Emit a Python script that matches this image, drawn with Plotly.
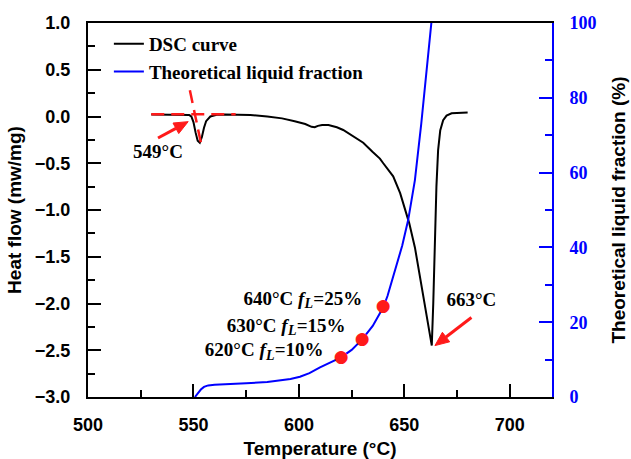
import math
import plotly.graph_objects as go

# DSC curve (Temperature °C, heat flow mW/mg)
dsc_temp = [530, 540, 546, 548, 549, 550, 551, 552, 553, 554, 555, 556, 558, 561, 565, 570,
            577, 585, 592, 598, 603, 606, 607.5, 609, 611, 614, 618, 621, 625, 630.5, 635,
            638.4, 640, 644.7, 648, 652.3, 655, 657.3, 660, 662, 663, 663.7, 664.4, 665.2,
            666, 667, 668.4, 670, 672.4, 676, 680]
dsc_flow = [0.022, 0.022, 0.02, 0.015, 0.0, -0.06, -0.17, -0.26, -0.28, -0.22, -0.12, -0.05,
            0.0, 0.018, 0.022, 0.022, 0.016, 0.0, -0.02, -0.05, -0.08, -0.11, -0.115, -0.1,
            -0.09, -0.092, -0.115, -0.144, -0.2, -0.28, -0.38, -0.45, -0.5, -0.64, -0.82,
            -1.14, -1.4, -1.71, -2.05, -2.32, -2.45, -2.0, -1.25, -0.75, -0.36, -0.15, -0.04,
            0.01, 0.034, 0.04, 0.042]

# Theoretical liquid fraction (%)
lf_temp = [550.7, 551.5, 552.5, 553.5, 555, 557, 560, 565, 575, 585, 591, 596, 600.5, 605, 610, 615,
           620, 625, 630, 635, 638, 640, 642, 644, 646.3, 649, 651.8, 655, 658, 660, 662.8, 663.5]
lf_frac = [0.0, 0.6, 1.4, 2.0, 2.7, 3.1, 3.3, 3.5, 3.7, 4.0, 4.4, 4.8, 5.4, 6.4, 7.9, 9.2,
           10.6, 12.6, 15.4, 19.0, 21.8, 24.0, 27.0, 31.0, 35.0, 40.5, 47.3, 58.0, 73.0, 84.0, 100.0, 104.0]

# Marked points and their labels
pt_temp = [620, 630, 640]
pt_frac = [10.6, 15.4, 24.0]
pt_labels = ["620°C", "630°C", "640°C"]
pt_fl = ["10%", "15%", "25%"]
pt_label_x = [586.4, 596.8, 604.7]   # position of the subscript L
pt_label_y = [-2.51, -2.25, -1.96]

# Onset construction lines (dashed) and arrows (tail -> head)
base_x = [530, 570]
base_y = [0.023, 0.023]
tang_x = [548.3, 553.9]
tang_y = [0.28, -0.32]
arrows = [((533.2, -0.23), (547.5, -0.055)), ((681.8, -2.15), (664.5, -2.45))]
peak_labels = ["549°C", "663°C"]
peak_label_x = [533.2, 681.8]
peak_label_y = [-0.39, -1.98]

X_RANGE = [500, 720]
Y_RANGE = [-3, 1]
W, H = 631, 459
ML, MR, MT, MB = 88, 79, 23, 62
KX = (W - ML - MR) / (X_RANGE[1] - X_RANGE[0])   # px per °C
KY = (H - MT - MB) / (Y_RANGE[1] - Y_RANGE[0])   # px per mW/mg

RED = "#ff1a1a"
BLUE = "#0000ff"
SERIF = "Liberation Serif"
SANS = "Liberation Sans"

fig = go.Figure()
fig.add_trace(go.Scatter(x=dsc_temp, y=dsc_flow, mode="lines", name="DSC curve",
                         line=dict(color="black", width=2), yaxis="y"))
fig.add_trace(go.Scatter(x=lf_temp, y=lf_frac, mode="lines", name="Theoretical liquid fraction",
                         line=dict(color=BLUE, width=2), yaxis="y2"))

# red dots drawn as glyphs
fig.add_trace(go.Scatter(x=pt_temp, y=pt_frac, mode="text", text=["●"] * len(pt_temp),
                         textposition="middle center", showlegend=False, hoverinfo="skip",
                         textfont=dict(family="DejaVu Sans", size=17, color=RED), yaxis="y2"))

# dashed red onset lines
for lx, ly in [(base_x, base_y), (tang_x, tang_y)]:
    fig.add_trace(go.Scatter(x=lx, y=ly, mode="lines", showlegend=False, hoverinfo="skip",
                             line=dict(color=RED, width=2.5, dash="13px,7px"), yaxis="y"))

# red arrows: shaft + filled head
for (x0, y0), (x1, y1) in arrows:
    dxp, dyp = (x1 - x0) * KX, (y1 - y0) * KY
    n = math.hypot(dxp, dyp)
    ux, uy = dxp / n, dyp / n
    hl, hw = 14, 6
    bxp, byp = x1 * KX - ux * hl, y1 * KY - uy * hl
    c1 = ((bxp - uy * hw) / KX, (byp + ux * hw) / KY)
    c2 = ((bxp + uy * hw) / KX, (byp - ux * hw) / KY)
    fig.add_trace(go.Scatter(x=[x0, bxp / KX], y=[y0, byp / KY], mode="lines", showlegend=False,
                             hoverinfo="skip", line=dict(color=RED, width=3), yaxis="y"))
    fig.add_trace(go.Scatter(x=[x1, c1[0], c2[0], x1], y=[y1, c1[1], c2[1], y1], mode="lines",
                             fill="toself", fillcolor=RED, showlegend=False, hoverinfo="skip",
                             line=dict(color=RED, width=1), yaxis="y"))

# peak temperature labels
fig.add_trace(go.Scatter(x=peak_label_x, y=peak_label_y, mode="text", showlegend=False, hoverinfo="skip",
                         text=[f"<b>{t}</b>" for t in peak_labels], textposition="middle center",
                         textfont=dict(family=SERIF, size=19, color="black"), yaxis="y"))

# liquid fraction labels: "T f" | "L" (lowered, small) | "=xx%"
fig.add_trace(go.Scatter(x=[x - 4.5 / KX for x in pt_label_x], y=pt_label_y, mode="text",
                         showlegend=False, hoverinfo="skip",
                         text=[f"<b>{lab} <i>f</i></b>" for lab in pt_labels], textposition="middle left",
                         textfont=dict(family=SERIF, size=19, color="black"), yaxis="y"))
fig.add_trace(go.Scatter(x=pt_label_x, y=[y - 5 / KY for y in pt_label_y], mode="text",
                         showlegend=False, hoverinfo="skip",
                         text=["<b><i>L</i></b>"] * len(pt_label_x), textposition="middle center",
                         textfont=dict(family=SERIF, size=14, color="black"), yaxis="y"))
fig.add_trace(go.Scatter(x=[x + 4.5 / KX for x in pt_label_x], y=pt_label_y, mode="text",
                         showlegend=False, hoverinfo="skip",
                         text=[f"<b>={fl}</b>" for fl in pt_fl], textposition="middle right",
                         textfont=dict(family=SERIF, size=19, color="black"), yaxis="y"))

fig.update_layout(
    width=W, height=H,
    margin=dict(l=ML, r=MR, t=MT, b=MB),
    paper_bgcolor="white", plot_bgcolor="white",
    showlegend=True,
    legend=dict(x=0.045, y=0.995, xanchor="left", yanchor="top", bgcolor="rgba(0,0,0,0)",
                font=dict(family=SERIF, size=19, color="black", weight="bold"),
                tracegroupgap=0),
    xaxis=dict(range=X_RANGE, dtick=50, tick0=500,
               showline=True, linecolor="black", linewidth=2, mirror=True, automargin=False,
               ticks="inside", ticklen=13, tickwidth=2, tickcolor="black",
               minor=dict(ticks="inside", ticklen=7, tickwidth=2, dtick=25, tickcolor="black"),
               ticklabelstandoff=10,
               tickfont=dict(family=SANS, size=18, color="black", weight="bold"),
               title=dict(text="<b>Temperature (°C)</b>", font=dict(family=SANS, size=19, color="black"),
                          standoff=8)),
    yaxis=dict(range=Y_RANGE, dtick=0.5, tick0=0, tickformat=".1f",
               showline=True, linecolor="black", linewidth=2, automargin=False,
               ticks="inside", ticklen=13, tickwidth=2, tickcolor="black",
               minor=dict(ticks="inside", ticklen=7, tickwidth=2, dtick=0.25, tickcolor="black"),
               ticklabelstandoff=12,
               tickfont=dict(family=SANS, size=18, color="black", weight="bold"),
               title=dict(text="<b>Heat flow (mw/mg)</b>", font=dict(family=SANS, size=19, color="black"),
                          standoff=8)),
    yaxis2=dict(range=[0, 100], dtick=20, tick0=0, overlaying="y", side="right",
                showline=True, linecolor=BLUE, linewidth=2, automargin=False,
                ticks="inside", ticklen=13, tickwidth=2, tickcolor=BLUE,
                minor=dict(ticks="inside", ticklen=7, tickwidth=2, dtick=10, tickcolor=BLUE),
                ticklabelstandoff=12,
                tickfont=dict(family=SERIF, size=18, color=BLUE, weight="bold"),
                title=dict(text="<b>Theoretical liquid fraction (%)</b>",
                           font=dict(family=SANS, size=19, color="black"), standoff=16)),
)

fig.write_html("out.html")
